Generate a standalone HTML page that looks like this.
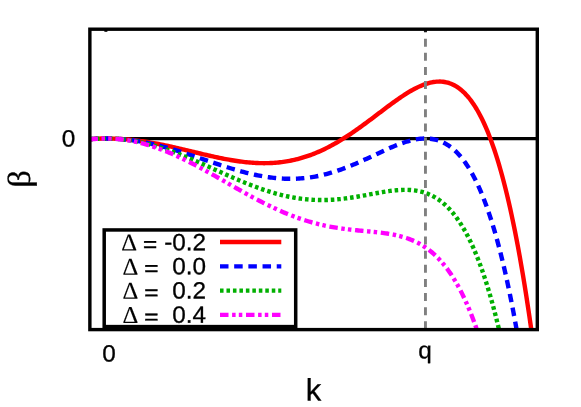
<!DOCTYPE html>
<html><head><meta charset="utf-8"><title>plot</title>
<style>html,body{margin:0;padding:0;background:#fff}svg{display:block;will-change:transform;opacity:.999}text{text-rendering:geometricPrecision}</style>
</head><body>
<svg width="581" height="407" viewBox="0 0 581 407">
<rect width="581" height="407" fill="#fff"/>
<defs><clipPath id="c"><rect x="89.87" y="29.2" width="447.42999999999995" height="300.40000000000003"/></clipPath></defs>
<line x1="89.87" y1="138.50" x2="537.3" y2="138.50" stroke="#000" stroke-width="3.25"/>
<g clip-path="url(#c)" fill="none" stroke-linejoin="round">
<path d="M89.90,139.04 L91.50,138.94 L93.10,138.85 L94.70,138.77 L96.29,138.70 L97.89,138.64 L99.49,138.59 L101.09,138.55 L102.68,138.52 L104.28,138.51 L105.88,138.50 L107.48,138.51 L109.08,138.52 L110.67,138.55 L112.27,138.59 L113.87,138.64 L115.47,138.70 L117.06,138.77 L118.66,138.85 L120.26,138.94 L121.86,139.04 L123.46,139.15 L125.05,139.28 L126.65,139.41 L128.25,139.55 L129.85,139.71 L131.45,139.87 L133.04,140.05 L134.64,140.23 L136.24,140.42 L137.84,140.62 L139.43,140.83 L141.03,141.06 L142.63,141.29 L144.23,141.52 L145.83,141.77 L147.42,142.03 L149.02,142.29 L150.62,142.56 L152.22,142.84 L153.82,143.13 L155.41,143.42 L157.01,143.72 L158.61,144.03 L160.21,144.35 L161.80,144.67 L163.40,144.99 L165.00,145.33 L166.60,145.66 L168.20,146.01 L169.79,146.36 L171.39,146.71 L172.99,147.07 L174.59,147.43 L176.19,147.80 L177.78,148.16 L179.38,148.54 L180.98,148.91 L182.58,149.29 L184.17,149.67 L185.77,150.05 L187.37,150.43 L188.97,150.82 L190.57,151.20 L192.16,151.59 L193.76,151.97 L195.36,152.36 L196.96,152.74 L198.56,153.13 L200.15,153.51 L201.75,153.89 L203.35,154.27 L204.95,154.64 L206.54,155.01 L208.14,155.38 L209.74,155.75 L211.34,156.11 L212.94,156.47 L214.53,156.82 L216.13,157.17 L217.73,157.51 L219.33,157.84 L220.93,158.17 L222.52,158.49 L224.12,158.81 L225.72,159.11 L227.32,159.41 L228.91,159.70 L230.51,159.98 L232.11,160.26 L233.71,160.52 L235.31,160.77 L236.90,161.01 L238.50,161.25 L240.10,161.47 L241.70,161.68 L243.30,161.87 L244.89,162.06 L246.49,162.23 L248.09,162.39 L249.69,162.53 L251.28,162.66 L252.88,162.78 L254.48,162.88 L256.08,162.97 L257.68,163.04 L259.27,163.10 L260.87,163.14 L262.47,163.17 L264.07,163.18 L265.66,163.17 L267.26,163.14 L268.86,163.10 L270.46,163.04 L272.06,162.96 L273.65,162.86 L275.25,162.75 L276.85,162.61 L278.45,162.46 L280.05,162.28 L281.64,162.09 L283.24,161.88 L284.84,161.65 L286.44,161.39 L288.03,161.12 L289.63,160.82 L291.23,160.51 L292.83,160.17 L294.43,159.82 L296.02,159.44 L297.62,159.04 L299.22,158.62 L300.82,158.18 L302.42,157.71 L304.01,157.23 L305.61,156.72 L307.21,156.19 L308.81,155.64 L310.40,155.06 L312.00,154.47 L313.60,153.85 L315.20,153.22 L316.80,152.56 L318.39,151.88 L319.99,151.17 L321.59,150.45 L323.19,149.70 L324.79,148.94 L326.38,148.15 L327.98,147.34 L329.58,146.52 L331.18,145.67 L332.77,144.80 L334.37,143.91 L335.97,143.01 L337.57,142.08 L339.17,141.14 L340.76,140.18 L342.36,139.20 L343.96,138.20 L345.56,137.18 L347.16,136.15 L348.75,135.11 L350.35,134.05 L351.95,132.97 L353.55,131.88 L355.14,130.77 L356.74,129.66 L358.34,128.53 L359.94,127.39 L361.54,126.24 L363.13,125.07 L364.73,123.90 L366.33,122.72 L367.93,121.54 L369.53,120.34 L371.12,119.14 L372.72,117.94 L374.32,116.73 L375.92,115.52 L377.51,114.31 L379.11,113.10 L380.71,111.89 L382.31,110.68 L383.91,109.47 L385.50,108.27 L387.10,107.07 L388.70,105.88 L390.30,104.70 L391.90,103.52 L393.49,102.36 L395.09,101.21 L396.69,100.08 L398.29,98.96 L399.88,97.86 L401.48,96.77 L403.08,95.71 L404.68,94.67 L406.28,93.66 L407.87,92.67 L409.47,91.70 L411.07,90.77 L412.67,89.87 L414.27,89.00 L415.86,88.17 L417.46,87.38 L419.06,86.63 L420.66,85.92 L422.25,85.25 L423.85,84.63 L425.45,84.06 L427.05,83.54 L428.65,83.08 L430.24,82.67 L431.84,82.32 L433.44,82.04 L435.04,81.82 L436.63,81.66 L438.23,81.58 L439.83,81.57 L441.43,81.63 L443.03,81.78 L444.62,82.00 L446.22,82.32 L447.82,82.71 L449.42,83.21 L451.02,83.79 L452.61,84.48 L454.21,85.26 L455.81,86.15 L457.41,87.15 L459.00,88.26 L460.60,89.49 L462.20,90.84 L463.80,92.31 L465.40,93.91 L466.99,95.64 L468.59,97.50 L470.19,99.50 L471.79,101.65 L473.39,103.94 L474.98,106.39 L476.58,108.99 L478.18,111.76 L479.78,114.69 L481.37,117.78 L482.97,121.06 L484.57,124.51 L486.17,128.15 L487.77,131.97 L489.36,135.99 L490.96,140.21 L492.56,144.63 L494.16,149.27 L495.76,154.11 L497.35,159.18 L498.95,164.47 L500.55,170.00 L502.15,175.76 L503.74,181.76 L505.34,188.01 L506.94,194.51 L508.54,201.28 L510.14,208.31 L511.73,215.61 L513.33,223.20 L514.93,231.06 L516.53,239.22 L518.13,247.68 L519.72,256.44 L521.32,265.51 L522.92,274.90 L524.52,284.62 L526.11,294.66 L527.71,305.05 L529.31,315.78 L530.91,326.86 L532.51,338.31" stroke="#ff0000" stroke-width="4.4"/>
<path d="M89.90,139.18 L91.50,139.05 L93.10,138.93 L94.70,138.83 L96.29,138.74 L97.89,138.67 L99.49,138.61 L101.09,138.56 L102.68,138.53 L104.28,138.51 L105.88,138.50 L107.48,138.51 L109.08,138.53 L110.67,138.56 L112.27,138.61 L113.87,138.67 L115.47,138.74 L117.06,138.83 L118.66,138.93 L120.26,139.05 L121.86,139.18 L123.46,139.32 L125.05,139.47 L126.65,139.64 L128.25,139.82 L129.85,140.01 L131.45,140.22 L133.04,140.44 L134.64,140.67 L136.24,140.91 L137.84,141.17 L139.43,141.44 L141.03,141.71 L142.63,142.01 L144.23,142.31 L145.83,142.62 L147.42,142.95 L149.02,143.28 L150.62,143.63 L152.22,143.98 L153.82,144.35 L155.41,144.73 L157.01,145.12 L158.61,145.51 L160.21,145.92 L161.80,146.33 L163.40,146.76 L165.00,147.19 L166.60,147.63 L168.20,148.08 L169.79,148.53 L171.39,149.00 L172.99,149.47 L174.59,149.95 L176.19,150.43 L177.78,150.92 L179.38,151.42 L180.98,151.92 L182.58,152.42 L184.17,152.94 L185.77,153.45 L187.37,153.97 L188.97,154.50 L190.57,155.02 L192.16,155.56 L193.76,156.09 L195.36,156.63 L196.96,157.16 L198.56,157.70 L200.15,158.24 L201.75,158.79 L203.35,159.33 L204.95,159.87 L206.54,160.42 L208.14,160.96 L209.74,161.50 L211.34,162.04 L212.94,162.58 L214.53,163.11 L216.13,163.65 L217.73,164.18 L219.33,164.70 L220.93,165.23 L222.52,165.74 L224.12,166.26 L225.72,166.77 L227.32,167.27 L228.91,167.77 L230.51,168.27 L232.11,168.75 L233.71,169.23 L235.31,169.70 L236.90,170.17 L238.50,170.62 L240.10,171.07 L241.70,171.51 L243.30,171.94 L244.89,172.36 L246.49,172.77 L248.09,173.17 L249.69,173.56 L251.28,173.93 L252.88,174.30 L254.48,174.66 L256.08,175.00 L257.68,175.33 L259.27,175.65 L260.87,175.95 L262.47,176.24 L264.07,176.52 L265.66,176.78 L267.26,177.03 L268.86,177.26 L270.46,177.48 L272.06,177.68 L273.65,177.87 L275.25,178.04 L276.85,178.19 L278.45,178.33 L280.05,178.45 L281.64,178.56 L283.24,178.65 L284.84,178.72 L286.44,178.77 L288.03,178.81 L289.63,178.82 L291.23,178.82 L292.83,178.80 L294.43,178.77 L296.02,178.71 L297.62,178.64 L299.22,178.54 L300.82,178.43 L302.42,178.30 L304.01,178.15 L305.61,177.98 L307.21,177.80 L308.81,177.59 L310.40,177.36 L312.00,177.12 L313.60,176.85 L315.20,176.57 L316.80,176.27 L318.39,175.95 L319.99,175.61 L321.59,175.25 L323.19,174.88 L324.79,174.48 L326.38,174.07 L327.98,173.64 L329.58,173.19 L331.18,172.73 L332.77,172.24 L334.37,171.74 L335.97,171.23 L337.57,170.70 L339.17,170.15 L340.76,169.59 L342.36,169.01 L343.96,168.41 L345.56,167.81 L347.16,167.19 L348.75,166.55 L350.35,165.91 L351.95,165.25 L353.55,164.58 L355.14,163.90 L356.74,163.20 L358.34,162.50 L359.94,161.79 L361.54,161.08 L363.13,160.35 L364.73,159.62 L366.33,158.88 L367.93,158.14 L369.53,157.40 L371.12,156.65 L372.72,155.90 L374.32,155.15 L375.92,154.39 L377.51,153.64 L379.11,152.90 L380.71,152.15 L382.31,151.41 L383.91,150.68 L385.50,149.95 L387.10,149.23 L388.70,148.52 L390.30,147.82 L391.90,147.13 L393.49,146.46 L395.09,145.80 L396.69,145.16 L398.29,144.54 L399.88,143.94 L401.48,143.35 L403.08,142.80 L404.68,142.26 L406.28,141.76 L407.87,141.28 L409.47,140.84 L411.07,140.42 L412.67,140.04 L414.27,139.70 L415.86,139.39 L417.46,139.13 L419.06,138.91 L420.66,138.73 L422.25,138.61 L423.85,138.53 L425.45,138.50 L427.05,138.53 L428.65,138.61 L430.24,138.76 L431.84,138.96 L433.44,139.23 L435.04,139.57 L436.63,139.98 L438.23,140.46 L439.83,141.02 L441.43,141.65 L443.03,142.37 L444.62,143.17 L446.22,144.06 L447.82,145.04 L449.42,146.12 L451.02,147.29 L452.61,148.56 L454.21,149.94 L455.81,151.43 L457.41,153.02 L459.00,154.74 L460.60,156.57 L462.20,158.52 L463.80,160.60 L465.40,162.81 L466.99,165.15 L468.59,167.63 L470.19,170.25 L471.79,173.02 L473.39,175.94 L474.98,179.01 L476.58,182.25 L478.18,185.64 L479.78,189.21 L481.37,192.95 L482.97,196.86 L484.57,200.96 L486.17,205.24 L487.77,209.71 L489.36,214.39 L490.96,219.26 L492.56,224.34 L494.16,229.63 L495.76,235.14 L497.35,240.87 L498.95,246.83 L500.55,253.03 L502.15,259.46 L503.74,266.14 L505.34,273.07 L506.94,280.26 L508.54,287.71 L510.14,295.43 L511.73,303.42 L513.33,311.70 L514.93,320.26 L516.53,329.11 L518.13,338.27" stroke="#0000ff" stroke-width="4.4" stroke-dasharray="8.46 5.655" stroke-dashoffset="0.4"/>
<path d="M89.90,139.31 L91.50,139.16 L93.10,139.02 L94.70,138.90 L96.29,138.79 L97.89,138.70 L99.49,138.63 L101.09,138.57 L102.68,138.53 L104.28,138.51 L105.88,138.50 L107.48,138.51 L109.08,138.53 L110.67,138.57 L112.27,138.63 L113.87,138.70 L115.47,138.79 L117.06,138.90 L118.66,139.02 L120.26,139.16 L121.86,139.31 L123.46,139.48 L125.05,139.67 L126.65,139.87 L128.25,140.09 L129.85,140.32 L131.45,140.57 L133.04,140.83 L134.64,141.11 L136.24,141.40 L137.84,141.71 L139.43,142.04 L141.03,142.37 L142.63,142.73 L144.23,143.09 L145.83,143.47 L147.42,143.87 L149.02,144.27 L150.62,144.70 L152.22,145.13 L153.82,145.58 L155.41,146.04 L157.01,146.51 L158.61,146.99 L160.21,147.49 L161.80,148.00 L163.40,148.52 L165.00,149.05 L166.60,149.60 L168.20,150.15 L169.79,150.71 L171.39,151.29 L172.99,151.87 L174.59,152.46 L176.19,153.06 L177.78,153.68 L179.38,154.30 L180.98,154.92 L182.58,155.56 L184.17,156.20 L185.77,156.85 L187.37,157.51 L188.97,158.18 L190.57,158.85 L192.16,159.52 L193.76,160.21 L195.36,160.89 L196.96,161.59 L198.56,162.28 L200.15,162.98 L201.75,163.69 L203.35,164.39 L204.95,165.10 L206.54,165.82 L208.14,166.53 L209.74,167.25 L211.34,167.97 L212.94,168.69 L214.53,169.41 L216.13,170.12 L217.73,170.84 L219.33,171.56 L220.93,172.28 L222.52,173.00 L224.12,173.71 L225.72,174.42 L227.32,175.13 L228.91,175.84 L230.51,176.55 L232.11,177.25 L233.71,177.94 L235.31,178.63 L236.90,179.32 L238.50,180.00 L240.10,180.67 L241.70,181.34 L243.30,182.00 L244.89,182.66 L246.49,183.31 L248.09,183.95 L249.69,184.58 L251.28,185.21 L252.88,185.82 L254.48,186.43 L256.08,187.02 L257.68,187.61 L259.27,188.19 L260.87,188.75 L262.47,189.31 L264.07,189.85 L265.66,190.39 L267.26,190.91 L268.86,191.42 L270.46,191.92 L272.06,192.40 L273.65,192.87 L275.25,193.33 L276.85,193.78 L278.45,194.21 L280.05,194.62 L281.64,195.03 L283.24,195.42 L284.84,195.79 L286.44,196.15 L288.03,196.49 L289.63,196.82 L291.23,197.14 L292.83,197.44 L294.43,197.72 L296.02,197.98 L297.62,198.24 L299.22,198.47 L300.82,198.69 L302.42,198.89 L304.01,199.08 L305.61,199.25 L307.21,199.40 L308.81,199.54 L310.40,199.66 L312.00,199.77 L313.60,199.86 L315.20,199.93 L316.80,199.98 L318.39,200.02 L319.99,200.05 L321.59,200.06 L323.19,200.05 L324.79,200.03 L326.38,199.99 L327.98,199.94 L329.58,199.87 L331.18,199.78 L332.77,199.69 L334.37,199.58 L335.97,199.45 L337.57,199.31 L339.17,199.16 L340.76,199.00 L342.36,198.82 L343.96,198.63 L345.56,198.43 L347.16,198.22 L348.75,198.00 L350.35,197.77 L351.95,197.52 L353.55,197.27 L355.14,197.02 L356.74,196.75 L358.34,196.48 L359.94,196.20 L361.54,195.92 L363.13,195.63 L364.73,195.34 L366.33,195.04 L367.93,194.75 L369.53,194.45 L371.12,194.15 L372.72,193.85 L374.32,193.56 L375.92,193.27 L377.51,192.98 L379.11,192.69 L380.71,192.41 L382.31,192.14 L383.91,191.88 L385.50,191.63 L387.10,191.39 L388.70,191.16 L390.30,190.94 L391.90,190.74 L393.49,190.56 L395.09,190.39 L396.69,190.24 L398.29,190.12 L399.88,190.01 L401.48,189.93 L403.08,189.88 L404.68,189.86 L406.28,189.86 L407.87,189.90 L409.47,189.97 L411.07,190.07 L412.67,190.21 L414.27,190.39 L415.86,190.62 L417.46,190.88 L419.06,191.19 L420.66,191.55 L422.25,191.96 L423.85,192.42 L425.45,192.94 L427.05,193.51 L428.65,194.15 L430.24,194.84 L431.84,195.60 L433.44,196.43 L435.04,197.33 L436.63,198.30 L438.23,199.34 L439.83,200.47 L441.43,201.67 L443.03,202.96 L444.62,204.34 L446.22,205.81 L447.82,207.37 L449.42,209.03 L451.02,210.79 L452.61,212.65 L454.21,214.62 L455.81,216.70 L457.41,218.90 L459.00,221.21 L460.60,223.64 L462.20,226.20 L463.80,228.89 L465.40,231.71 L466.99,234.66 L468.59,237.76 L470.19,241.00 L471.79,244.39 L473.39,247.94 L474.98,251.64 L476.58,255.50 L478.18,259.53 L479.78,263.73 L481.37,268.11 L482.97,272.66 L484.57,277.40 L486.17,282.33 L487.77,287.46 L489.36,292.78 L490.96,298.31 L492.56,304.04 L494.16,310.00 L495.76,316.17 L497.35,322.57 L498.95,329.20 L500.55,336.06" stroke="#00b000" stroke-width="4.4" stroke-dasharray="3.55 2.907" stroke-dashoffset="0.4"/>
<path d="M89.90,139.45 L91.50,139.27 L93.10,139.11 L94.70,138.97 L96.29,138.84 L97.89,138.74 L99.49,138.65 L101.09,138.59 L102.68,138.54 L104.28,138.51 L105.88,138.50 L107.48,138.51 L109.08,138.54 L110.67,138.59 L112.27,138.65 L113.87,138.74 L115.47,138.84 L117.06,138.97 L118.66,139.11 L120.26,139.27 L121.86,139.45 L123.46,139.65 L125.05,139.86 L126.65,140.10 L128.25,140.35 L129.85,140.63 L131.45,140.92 L133.04,141.22 L134.64,141.55 L136.24,141.90 L137.84,142.26 L139.43,142.64 L141.03,143.03 L142.63,143.45 L144.23,143.88 L145.83,144.32 L147.42,144.79 L149.02,145.27 L150.62,145.76 L152.22,146.27 L153.82,146.80 L155.41,147.34 L157.01,147.90 L158.61,148.48 L160.21,149.07 L161.80,149.67 L163.40,150.28 L165.00,150.92 L166.60,151.56 L168.20,152.22 L169.79,152.89 L171.39,153.57 L172.99,154.27 L174.59,154.98 L176.19,155.70 L177.78,156.43 L179.38,157.18 L180.98,157.93 L182.58,158.70 L184.17,159.47 L185.77,160.26 L187.37,161.05 L188.97,161.86 L190.57,162.67 L192.16,163.49 L193.76,164.32 L195.36,165.16 L196.96,166.01 L198.56,166.86 L200.15,167.72 L201.75,168.59 L203.35,169.46 L204.95,170.34 L206.54,171.22 L208.14,172.11 L209.74,173.00 L211.34,173.89 L212.94,174.80 L214.53,175.70 L216.13,176.60 L217.73,177.51 L219.33,178.42 L220.93,179.34 L222.52,180.25 L224.12,181.17 L225.72,182.08 L227.32,183.00 L228.91,183.91 L230.51,184.83 L232.11,185.74 L233.71,186.65 L235.31,187.56 L236.90,188.47 L238.50,189.37 L240.10,190.28 L241.70,191.18 L243.30,192.07 L244.89,192.96 L246.49,193.85 L248.09,194.73 L249.69,195.61 L251.28,196.48 L252.88,197.34 L254.48,198.20 L256.08,199.05 L257.68,199.89 L259.27,200.73 L260.87,201.56 L262.47,202.38 L264.07,203.19 L265.66,204.00 L267.26,204.79 L268.86,205.58 L270.46,206.35 L272.06,207.12 L273.65,207.88 L275.25,208.62 L276.85,209.36 L278.45,210.08 L280.05,210.79 L281.64,211.50 L283.24,212.18 L284.84,212.86 L286.44,213.53 L288.03,214.18 L289.63,214.82 L291.23,215.45 L292.83,216.07 L294.43,216.67 L296.02,217.26 L297.62,217.83 L299.22,218.40 L300.82,218.95 L302.42,219.48 L304.01,220.01 L305.61,220.51 L307.21,221.01 L308.81,221.49 L310.40,221.96 L312.00,222.42 L313.60,222.86 L315.20,223.28 L316.80,223.70 L318.39,224.10 L319.99,224.49 L321.59,224.86 L323.19,225.22 L324.79,225.57 L326.38,225.91 L327.98,226.23 L329.58,226.54 L331.18,226.84 L332.77,227.13 L334.37,227.41 L335.97,227.67 L337.57,227.93 L339.17,228.17 L340.76,228.40 L342.36,228.63 L343.96,228.84 L345.56,229.05 L347.16,229.25 L348.75,229.44 L350.35,229.62 L351.95,229.80 L353.55,229.97 L355.14,230.14 L356.74,230.30 L358.34,230.46 L359.94,230.61 L361.54,230.76 L363.13,230.91 L364.73,231.06 L366.33,231.21 L367.93,231.35 L369.53,231.50 L371.12,231.66 L372.72,231.81 L374.32,231.97 L375.92,232.14 L377.51,232.31 L379.11,232.49 L380.71,232.68 L382.31,232.88 L383.91,233.09 L385.50,233.31 L387.10,233.54 L388.70,233.80 L390.30,234.06 L391.90,234.35 L393.49,234.65 L395.09,234.98 L396.69,235.32 L398.29,235.70 L399.88,236.09 L401.48,236.52 L403.08,236.97 L404.68,237.45 L406.28,237.97 L407.87,238.51 L409.47,239.10 L411.07,239.72 L412.67,240.39 L414.27,241.09 L415.86,241.84 L417.46,242.63 L419.06,243.48 L420.66,244.37 L422.25,245.32 L423.85,246.32 L425.45,247.38 L427.05,248.50 L428.65,249.68 L430.24,250.93 L431.84,252.24 L433.44,253.62 L435.04,255.08 L436.63,256.61 L438.23,258.22 L439.83,259.92 L441.43,261.69 L443.03,263.56 L444.62,265.51 L446.22,267.56 L447.82,269.70 L449.42,271.94 L451.02,274.29 L452.61,276.74 L454.21,279.30 L455.81,281.98 L457.41,284.77 L459.00,287.68 L460.60,290.72 L462.20,293.88 L463.80,297.18 L465.40,300.61 L466.99,304.18 L468.59,307.89 L470.19,311.75 L471.79,315.77 L473.39,319.93 L474.98,324.26 L476.58,328.76 L478.18,333.42 L479.78,338.25" stroke="#ff00ff" stroke-width="4.4" stroke-dasharray="8.46 3.59 3.48 3.19 3.48 3.69" stroke-dashoffset="0.4"/>
</g>
<line x1="425.45" y1="329.3" x2="425.45" y2="29.2" stroke="#808080" stroke-width="2.9" stroke-dasharray="8 6.13"/>
<rect x="104.2" y="229.95" width="191.5" height="96.65000000000003" fill="#fff" stroke="#000" stroke-width="3.5"/>
<line x1="220" y1="242.06" x2="281.3" y2="242.06" stroke="#ff0000" stroke-width="4.4"/>
<line x1="220" y1="266.35" x2="281.3" y2="266.35" stroke="#0000ff" stroke-width="4.4" stroke-dasharray="8.5 5.68"/>
<line x1="220" y1="290.65" x2="281.3" y2="290.65" stroke="#00b000" stroke-width="4.4" stroke-dasharray="3.55 2.92"/>
<line x1="220" y1="314.9" x2="281.3" y2="314.9" stroke="#ff00ff" stroke-width="4.4" stroke-dasharray="8.5 3.6 3.5 3.2 3.5 3.7"/>
<rect x="89.87" y="29.2" width="447.42999999999995" height="300.40000000000003" fill="none" stroke="#000" stroke-width="3.4"/>
<line x1="105.88" y1="29.2" x2="105.88" y2="31.8" stroke="#000" stroke-width="3"/>
<line x1="425.45" y1="29.2" x2="425.45" y2="31.8" stroke="#000" stroke-width="3"/>
<text transform="translate(121.3,250.46) rotate(0.05) scale(1.012,1)" font-size="24.3" text-anchor="start" font-family="Liberation Serif, Times New Roman, serif" fill="#000" stroke="#000" stroke-width="0.15">Δ</text>
<text transform="translate(143.0,251.66) rotate(0.05) scale(1.03,0.92)" font-size="23.6" text-anchor="start" font-family="Liberation Sans, Arial, Helvetica, sans-serif" fill="#000" stroke="#000" stroke-width="0.5">=</text>
<text transform="translate(206.1,250.16) rotate(0.05) scale(1.03,1)" font-size="23.6" text-anchor="end" font-family="Liberation Sans, Arial, Helvetica, sans-serif" fill="#000" stroke="#000" stroke-width="0.3">-0.2</text>
<text transform="translate(122.6,274.64) rotate(0.05) scale(1.012,1)" font-size="24.3" text-anchor="start" font-family="Liberation Serif, Times New Roman, serif" fill="#000" stroke="#000" stroke-width="0.15">Δ</text>
<text transform="translate(144.3,275.84) rotate(0.05) scale(1.03,0.92)" font-size="23.6" text-anchor="start" font-family="Liberation Sans, Arial, Helvetica, sans-serif" fill="#000" stroke="#000" stroke-width="0.5">=</text>
<text transform="translate(206.1,274.34) rotate(0.05) scale(1.03,1)" font-size="23.6" text-anchor="end" font-family="Liberation Sans, Arial, Helvetica, sans-serif" fill="#000" stroke="#000" stroke-width="0.3">0.0</text>
<text transform="translate(122.6,298.82) rotate(0.05) scale(1.012,1)" font-size="24.3" text-anchor="start" font-family="Liberation Serif, Times New Roman, serif" fill="#000" stroke="#000" stroke-width="0.15">Δ</text>
<text transform="translate(144.3,300.02) rotate(0.05) scale(1.03,0.92)" font-size="23.6" text-anchor="start" font-family="Liberation Sans, Arial, Helvetica, sans-serif" fill="#000" stroke="#000" stroke-width="0.5">=</text>
<text transform="translate(206.1,298.52) rotate(0.05) scale(1.03,1)" font-size="23.6" text-anchor="end" font-family="Liberation Sans, Arial, Helvetica, sans-serif" fill="#000" stroke="#000" stroke-width="0.3">0.2</text>
<text transform="translate(122.6,323.0) rotate(0.05) scale(1.012,1)" font-size="24.3" text-anchor="start" font-family="Liberation Serif, Times New Roman, serif" fill="#000" stroke="#000" stroke-width="0.15">Δ</text>
<text transform="translate(144.3,324.2) rotate(0.05) scale(1.03,0.92)" font-size="23.6" text-anchor="start" font-family="Liberation Sans, Arial, Helvetica, sans-serif" fill="#000" stroke="#000" stroke-width="0.5">=</text>
<text transform="translate(206.1,322.7) rotate(0.05) scale(1.03,1)" font-size="23.6" text-anchor="end" font-family="Liberation Sans, Arial, Helvetica, sans-serif" fill="#000" stroke="#000" stroke-width="0.3">0.4</text>
<text transform="translate(68.6,146.4) rotate(0.05) scale(1.03,1)" font-size="23.6" text-anchor="middle" font-family="Liberation Sans, Arial, Helvetica, sans-serif" fill="#000" stroke="#000" stroke-width="0.3">0</text>
<text transform="translate(109.0,361.55) rotate(0.05) scale(1.03,1)" font-size="23.6" text-anchor="middle" font-family="Liberation Sans, Arial, Helvetica, sans-serif" fill="#000" stroke="#000" stroke-width="0.3">0</text>
<text transform="translate(425.0,358.28) rotate(0.05) scale(1.03,1)" font-size="23.6" text-anchor="middle" font-family="Liberation Sans, Arial, Helvetica, sans-serif" fill="#000" stroke="#000" stroke-width="0.3">q</text>
<text transform="translate(313.55,400.6) rotate(0.05) scale(1.0,1)" font-size="31" text-anchor="middle" font-family="Liberation Sans, Arial, Helvetica, sans-serif" fill="#000" stroke="#000" stroke-width="0.3">k</text>
<text transform="translate(30.2,179.0) rotate(-90) scale(1.08,1)" font-size="32" text-anchor="middle" font-family="Liberation Serif, Times New Roman, serif" fill="#000" stroke="#000" stroke-width="0.3">β</text>
</svg>
</body></html>
